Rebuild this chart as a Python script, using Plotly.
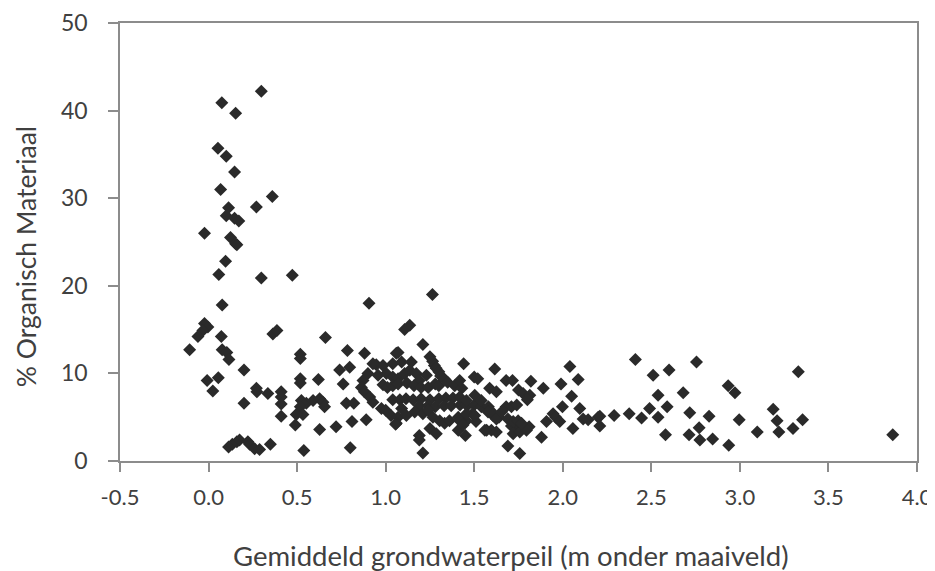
import plotly.graph_objects as go

# Gemiddeld grondwaterpeil (m onder maaiveld)
gwp = [
    0.298, 0.075, 0.153, 0.053, 0.10, 0.147, 0.068, 0.36, 0.113, 0.27, 0.10, 0.147, 0.171, -0.023,
    0.124, 0.153, 0.16, 0.096, 0.058, 0.298, 0.473, 0.077, -0.023, -0.004, -0.032, -0.06, 0.072,
    0.363, 0.386, 0.66, -0.107, 0.077, 0.103, 0.115, 0.518, 0.518, 0.20, -0.008, 0.055, 0.024,
    0.518, 0.518, 0.62, 0.27, 0.273, 0.335, 0.41, 0.41, 0.41, 0.20, 0.524, 0.552, 0.59, 0.627,
    0.646, 0.655, 0.518, 0.533, 0.495, 0.41, 0.49, 0.627, 0.72, 0.81, 0.778, 0.82, 0.89,
    0.113, 0.134, 0.16, 0.175, 0.222, 0.232, 0.26, 0.288, 0.349, 0.538, 0.80,
    0.76, 0.784, 0.881, 0.74, 0.797, 0.906, 0.947, 1.06,
    0.928, 0.985, 1.04, 1.09, 1.145,
    0.9, 0.872, 0.863, 0.88, 0.91, 0.928,
    0.957, 1.004, 1.04, 1.07, 1.107, 1.136, 1.173, 1.19, 1.23,
    0.985, 1.01, 1.04, 1.07, 1.12, 1.16, 1.2, 1.24, 1.28, 1.30,
    1.04, 1.08, 1.115, 1.155, 1.2, 1.25, 1.3, 1.34, 1.38,
    1.19, 1.24, 1.28, 1.33, 1.37, 1.42, 1.46, 1.5, 1.54, 1.58,
    0.976, 1.0, 1.03, 1.07, 1.09,
    1.164, 1.21, 1.24, 1.267, 1.305, 1.333, 1.36, 1.41, 1.456, 1.49, 1.51,
    1.06, 1.117, 1.25, 1.286, 1.19, 1.41, 1.45, 1.57,
    1.25, 1.265, 1.275, 1.285, 1.30, 1.31, 1.33, 1.35, 1.39, 1.43,
    1.264, 1.107, 1.136, 1.21, 1.07, 1.44, 1.616, 1.50, 1.52, 1.68, 1.716, 1.82, 1.99, 2.04,
    2.087, 2.05, 1.89, 1.587, 1.625, 1.75, 1.776, 1.814, 1.998, 2.096, 2.115, 2.143, 2.2, 2.057,
    1.945, 1.96, 1.983, 1.908, 1.88, 1.757, 1.69, 1.21, 1.19, 1.056,
    1.597, 1.625, 1.68, 1.71, 1.74, 1.587, 1.61, 1.64, 1.71, 1.74, 1.76, 1.81, 1.72, 1.757, 1.795,
    1.418, 1.418, 1.456, 1.503, 1.54, 1.80, 1.456, 1.503, 1.418, 1.437,
    1.578, 1.606, 1.625, 1.654, 1.69, 1.72, 1.748, 1.767, 1.56, 2.209, 2.209,
    2.41, 2.755, 2.60, 2.51, 3.33, 2.934, 2.972, 2.538, 2.68, 2.49, 2.538, 2.589, 2.375, 2.445,
    2.29, 2.717, 2.826, 2.996, 3.188, 3.21, 3.22, 3.354, 3.30, 2.58, 2.713, 2.77, 2.774, 2.846,
    2.937, 3.098, 3.863,
]

# % Organisch Materiaal
om = [
    42.2, 40.9, 39.7, 35.7, 34.8, 33.0, 31.0, 30.2, 28.9, 29.0, 28.0, 27.7, 27.4, 26.0,
    25.5, 24.8, 24.7, 22.8, 21.3, 20.9, 21.2, 17.8, 15.7, 15.3, 14.9, 14.2, 14.2,
    14.5, 14.9, 14.1, 12.7, 12.7, 12.4, 11.6, 12.2, 11.7, 10.4, 9.2, 9.5, 8.0,
    9.4, 8.9, 9.3, 8.3, 7.9, 7.7, 7.9, 7.3, 6.5, 6.6, 6.9, 6.6, 6.9, 7.1,
    6.7, 6.2, 6.2, 5.3, 5.3, 5.1, 4.1, 3.6, 3.9, 4.5, 6.6, 6.6, 4.7,
    1.6, 1.9, 2.2, 2.4, 2.2, 1.9, 1.4, 1.3, 1.9, 1.2, 1.5,
    8.8, 12.6, 12.3, 10.4, 10.7, 18.0, 11.0, 12.3,
    11.1, 10.9, 11.1, 11.3, 11.3,
    10.0, 9.2, 8.4, 7.9, 7.3, 6.7,
    9.8, 10.0, 9.6, 9.4, 10.0, 10.35, 10.0, 9.2, 9.8,
    8.7, 8.4, 8.6, 8.8, 8.9, 8.6, 8.4, 8.4, 8.8, 8.6,
    7.0, 7.0, 7.1, 7.0, 7.1, 7.0, 7.1, 7.2, 7.2,
    6.3, 6.3, 6.2, 6.3, 6.3, 6.4, 6.3, 6.4, 6.2, 6.2,
    6.0, 5.8, 5.2, 5.0, 6.0,
    5.6, 5.4, 5.8, 5.0, 4.6, 4.3, 4.6, 5.0, 4.6, 5.4, 4.5,
    4.3, 5.2, 3.7, 3.1, 2.9, 3.5, 2.9, 3.5,
    11.9, 11.4, 10.9, 10.6, 10.2, 9.7, 9.4, 9.0, 8.6, 8.3,
    19.0, 15.0, 15.5, 13.3, 12.4, 11.1, 10.5, 9.6, 9.4, 9.2, 9.2, 9.1, 8.8, 10.8,
    9.3, 7.4, 8.3, 8.3, 7.9, 8.1, 7.7, 7.5, 6.2, 6.0, 4.8, 4.7, 5.0, 3.7,
    5.4, 5.0, 4.5, 4.5, 2.7, 0.85, 1.7, 0.9, 2.4, 4.2,
    3.5, 3.3, 6.2, 6.2, 6.4, 5.8, 5.4, 5.0, 4.0, 4.0, 4.0, 3.9, 3.1, 3.3, 3.5,
    9.2, 7.3, 6.9, 7.5, 6.9, 7.0, 5.4, 5.2, 4.6, 4.1,
    5.6, 5.2, 4.8, 5.6, 4.8, 4.5, 4.6, 4.3, 3.5, 5.1, 4.0,
    11.6, 11.3, 10.4, 9.8, 10.2, 8.6, 7.8, 7.5, 7.8, 6.0, 5.0, 6.2, 5.4, 4.9,
    5.2, 5.5, 5.1, 4.7, 5.9, 4.6, 3.3, 4.7, 3.7, 3.0, 3.0, 3.8, 2.4, 2.5,
    1.8, 3.3, 3.0,
]

x_ticks = [-0.5, 0.0, 0.5, 1.0, 1.5, 2.0, 2.5, 3.0, 3.5, 4.0]
x_ticklabels = ["-0.5", "0.0", "0.5", "1.0", "1.5", "2.0", "2.5", "3.0", "3.5", "4.0"]
y_ticks = [0, 10, 20, 30, 40, 50]

x_title = "Gemiddeld grondwaterpeil (m onder maaiveld)"
y_title = "% Organisch Materiaal"

FONT = "Lato, Carlito, 'Open Sans', sans-serif"
TXT = "#404040"
AX = "#8c8c8c"

fig = go.Figure(
    go.Scatter(
        x=gwp, y=om, mode="markers",
        marker=dict(symbol="diamond", size=10, color="#2a2a2a", line=dict(width=0)),
        hoverinfo="x+y",
    )
)

# the page body has an 8px margin, so the figure is 8px smaller and margins compensate
fig.update_layout(
    width=927, height=563,
    margin=dict(l=112, r=18, t=15, b=110),
    paper_bgcolor="white", plot_bgcolor="white",
    showlegend=False,
    font=dict(family=FONT, color=TXT),
)

fig.update_xaxes(
    range=[-0.5, 4.0], tickvals=x_ticks, ticktext=x_ticklabels,
    showgrid=False, zeroline=False, automargin=False,
    showline=True, linecolor=AX, linewidth=1.5, mirror=True,
    ticks="outside", ticklen=9, tickcolor=AX, tickwidth=1.5,
    tickfont=dict(size=22, family=FONT, color=TXT),
    ticklabelstandoff=7,
)
fig.update_yaxes(
    range=[0, 50], tickvals=y_ticks,
    showgrid=False, zeroline=False, automargin=False,
    showline=True, linecolor=AX, linewidth=1.5, mirror=True,
    ticks="outside", ticklen=10, tickcolor=AX, tickwidth=1.5,
    tickfont=dict(size=23, family=FONT, color=TXT),
    ticklabelstandoff=16,
)

fig.add_annotation(
    text=x_title, xref="paper", yref="paper", x=0.49, y=-0.2164,
    xanchor="center", yanchor="middle", showarrow=False,
    font=dict(size=27.5, family=FONT, color=TXT),
)
fig.add_annotation(
    text=y_title, xref="paper", yref="paper", x=-0.1175, y=0.466,
    xanchor="center", yanchor="middle", textangle=-90, showarrow=False,
    font=dict(size=26.5, family=FONT, color=TXT),
)

fig.write_html("out.html")
